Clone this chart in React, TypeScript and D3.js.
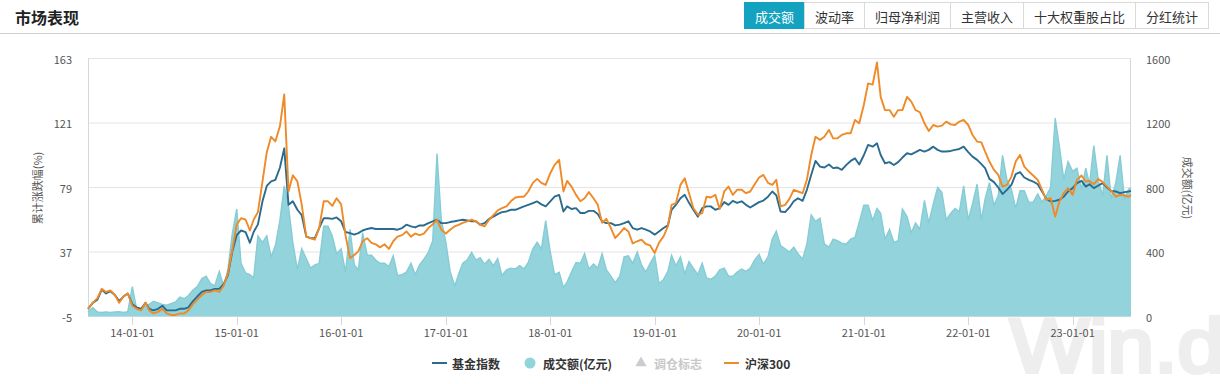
import React from 'react';
import * as d3 from 'd3';

// ---------- data ----------
const FIRST_DATE = '2013-07-30';
const GRID_FROM = '2013-08-16';
const GRID_TO = '2023-07-16';
const LAST_DATE = '2023-07-24';

// 基金指数 cumulative change (%)
const fundIndex = [
  0, 3.9, 6, 12.5, 10, 11.5, 9, 5, 8, 10,
  3, 1, 0, 4, 0, -1, 0, 2, -1, -1,
  -1, 0, 0, 1, 5, 8, 11, 12, 12, 13,
  13, 16, 22, 37, 48, 51, 50, 43, 50, 55,
  70, 80, 83, 84, 92, 104.5, 67.7, 70, 64.5, 61,
  47, 46, 46, 52.6, 59, 59, 58.6, 59.5, 57, 50,
  49.3, 48.3, 49.3, 51, 52, 52.6, 52, 52, 52, 52,
  52, 51.5, 52.6, 54.8, 53.7, 53, 54.3, 54.3, 55.8, 57,
  58, 55.8, 55.8, 56.5, 57, 57.6, 58, 57.6, 57, 57,
  54.8, 55.8, 58.6, 60, 61.7, 63, 63.4, 64.5, 64.5, 65.6,
  66.7, 67.7, 68.8, 69.9, 68, 66.7, 69.9, 73, 74.2, 63.4,
  66.7, 65, 65.6, 62.4, 62.4, 63.8, 63.8, 61.7, 57, 55.8,
  55.8, 54.3, 54.8, 55.8, 57, 52.6, 51.5, 52.6, 51.5, 50.4,
  48.3, 50.4, 52.6, 54.3, 64.5, 67.7, 72, 74.2, 69, 64.5,
  60, 65.6, 66.7, 66.7, 64.5, 65.6, 69.5, 67.7, 70.3, 69,
  70, 67.7, 66, 67.7, 69.5, 70.5, 73, 76.4, 74, 63.4,
  63, 66, 70, 72, 70.3, 77.5, 87.2, 96.3, 92.6, 92,
  94, 91.6, 92, 90.5, 93.7, 96.3, 98, 94, 100, 106.7,
  105.6, 107.8, 100.2, 94.8, 95.5, 93.7, 95.5, 98.5, 101.3, 100.6,
  102, 103.5, 102.4, 103.5, 105.6, 103.5, 102.4, 102.4, 102.8, 103.5,
  104.1, 105.6, 102, 99.1, 97, 94.2, 91.6, 84.6, 82.5, 79,
  74.7, 77.5, 80.7, 87.7, 89, 85.5, 84, 82.9, 81.1, 76.4,
  71.6, 69.9, 70.3, 71, 73, 76.4, 78.6, 81.8, 83.3, 79.6,
  81.1, 78.6, 80.3, 81.8, 79, 76.8, 76.4, 75.3, 76, 76.4,
  76.8,
];

// 沪深300 cumulative change (%)
const hs300 = [
  0, 4, 7, 13, 11, 12, 9, 4, 8, 10,
  2, 0, -1, 4, -1, -3, -2, 0, -3, -4,
  -4, -3, -3, -1, 3, 6, 9, 11, 11, 12,
  11, 15, 23, 38, 55, 59, 58, 51, 58, 63,
  83, 102, 112, 109, 119, 139.6, 76.4, 87, 83, 68,
  47, 46, 45, 52.6, 70, 70, 67, 72, 68, 48,
  33, 35, 37.4, 44, 46, 43, 42, 40, 42, 39,
  44, 47, 48, 50.4, 47, 49, 48, 49, 52.6, 55,
  58, 51.5, 49, 51.5, 53.7, 54.8, 56, 57, 58, 57,
  54.8, 53.7, 58, 61, 64, 65.6, 66.7, 70, 72.5, 73,
  73, 76.4, 82, 84.6, 82, 80.7, 88.3, 93.7, 97, 76.4,
  83.3, 79.6, 74.2, 70, 72, 76, 72, 67.7, 56, 58.6,
  52.6, 46, 49.3, 52.6, 50.4, 42.6, 44, 45, 42.2, 41.3,
  36.4, 43, 47.2, 53.7, 67.7, 68.8, 80.7, 85, 75.3, 65.6,
  61.2, 62.3, 73, 72.5, 74.2, 65, 76.4, 79.6, 74.2, 77.5,
  77.5, 75.3, 76.4, 81, 85.5, 87.2, 82, 80.7, 84, 66.7,
  67.7, 71.6, 77.5, 76.4, 75.3, 84, 100, 112, 110, 112,
  116.5, 111, 111, 113.2, 114.3, 114.3, 123, 120.8, 132.7, 146.8,
  146, 160.4, 138, 129.4, 129.4, 125, 129.4, 129.4, 138, 134.9,
  129.4, 128, 120.8, 115.8, 119.7, 118.6, 119.3, 121.9, 120.1, 119.7,
  121.9, 123, 119.7, 113.2, 108.9, 108.4, 102.4, 95.9, 90.5, 87.2,
  79.6, 80.7, 86.1, 95.9, 100.2, 92.6, 89.4, 86.8, 84, 77.5,
  71, 72, 60, 70, 75.3, 78.6, 74.2, 84, 86.8, 82.9,
  83.3, 81.1, 84.6, 82.5, 79.6, 76.8, 73, 74.2, 73.8, 73,
  74.2,
];

// 成交额 (亿元)
const turnover = [
  30, 55, 28, 25, 28, 25, 28, 30, 25, 30,
  185, 45, 50, 65, 75, 95, 85, 75, 70, 80,
  90, 120, 110, 130, 165, 185, 235, 250, 205, 190,
  280, 190, 290, 510, 667, 330, 270, 260, 240, 500,
  460, 500, 370, 440, 600, 810, 680, 460, 290, 420,
  360, 300, 320, 330, 560, 560, 500, 390, 420, 275,
  540, 320, 290, 520, 380, 380, 350, 330, 330, 310,
  377, 255, 260, 275, 330, 260, 320, 355, 400, 470,
  1010, 600, 460, 280, 190, 270, 330, 350, 398, 350,
  365, 325, 355, 315, 360, 255, 290, 300, 295, 315,
  295, 335, 420, 460, 420, 595, 400, 260, 275, 180,
  215, 275, 335, 330, 390, 295, 325, 300, 390, 290,
  250, 210, 250, 370, 377, 330, 400, 320, 275, 330,
  380, 205, 230, 280, 380, 315, 370, 265, 340, 300,
  260, 330, 240, 230, 250, 290, 300, 250, 250, 275,
  294, 280, 300, 350, 385, 325, 370, 480, 530, 440,
  420, 400, 430, 390, 355, 450, 630, 590, 610, 450,
  430, 480, 470, 455, 450, 480, 490, 585, 690, 690,
  595, 670, 640, 480, 540, 460, 470, 667, 620, 520,
  580, 540, 720, 580, 700, 800, 770, 600, 640, 670,
  650, 810, 600, 700, 820, 600, 730, 830, 690, 750,
  1000, 850, 790, 670, 780, 780, 709, 709, 760, 709,
  750, 800, 1230, 1050, 850, 960, 900, 920, 790, 920,
  820, 1060, 840, 750, 1000, 730, 830, 1000, 730, 790,
  800,
];

const leftTicks = [-5, 37, 79, 121, 163];
const rightTicks = [0, 400, 800, 1200, 1600];
const xTickYears = [2014, 2015, 2016, 2017, 2018, 2019, 2020, 2021, 2022, 2023];
const tabs = ['成交额', '波动率', '归母净利润', '主营收入', '十大权重股占比', '分红统计'];
const title = '市场表现';
const leftTitle = '累计涨跌幅(%)';
const rightTitle = '成交额(亿元)';
const legendLabels = ['基金指数', '成交额(亿元)', '调仓标志', '沪深300'];

// ---------- helpers ----------
const parse = d3.timeParse('%Y-%m-%d');
function buildDates(): Date[] {
  const from = parse(GRID_FROM)!;
  const to = parse(GRID_TO)!;
  const out: Date[] = [parse(FIRST_DATE)!];
  for (let y = 2013; y <= 2023; y++) {
    for (let m = 0; m < 12; m++) {
      for (const d of [1, 16]) {
        const dt = new Date(y, m, d);
        if (dt >= from && dt <= to) out.push(dt);
      }
    }
  }
  out.push(parse(LAST_DATE)!);
  return out;
}

const FONT = "'Noto Sans CJK SC', 'Noto Sans', sans-serif";
const BLUE = '#2a6b8f';
const ORANGE = '#ef8a27';
const TEAL = '#93d3dc';
const TEAL_LINE = '#86ccd6';

export default function App() {
  const W = 1220;
  const H = 384;
  const plot = { left: 88, right: 1131, top: 58.5, bottom: 316.5 };
  const dates = buildDates();

  const x = d3.scaleTime().domain([dates[0], dates[dates.length - 1]]).range([plot.left, plot.right]);
  const yL = d3.scaleLinear().domain([-5, 163]).range([plot.bottom, plot.top]);
  const yR = d3.scaleLinear().domain([0, 1600]).range([plot.bottom, plot.top]);

  const n = Math.min(dates.length, fundIndex.length, hs300.length, turnover.length);
  const idx = d3.range(n);

  const lineFund = d3.line<number>().x((i) => x(dates[i])).y((i) => yL(fundIndex[i]));
  const lineHs = d3.line<number>().x((i) => x(dates[i])).y((i) => yL(hs300[i]));
  const areaVol = d3.area<number>().x((i) => x(dates[i])).y0(yR(0)).y1((i) => yR(turnover[i]));
  const lineVol = d3.line<number>().x((i) => x(dates[i])).y((i) => yR(turnover[i]));

  const fmt = d3.timeFormat('%y-%m-%d');
  const xTicks = xTickYears.map((yr) => new Date(yr, 0, 1));

  // tabs layout
  const tabStart = 744;
  let cur = tabStart;
  const tabBoxes = tabs.map((t) => {
    const w = t.length * 13 + 21;
    const b = { t, x: cur, w };
    cur += w;
    return b;
  });

  const tri = d3.symbol().type(d3.symbolTriangle).size(55)();

  return (
    <div style={{ position: 'absolute', left: 0, top: 0, width: W, height: H, background: '#fff' }}>
      <svg width={W} height={H} style={{ display: 'block', fontFamily: FONT }}>
        <rect x={0} y={0} width={W} height={H} fill="#fff" />

        {/* watermark */}
        <text
          x={1010}
          y={372}
          fontSize={76}
          fontFamily="'Liberation Sans', Arial, sans-serif"
          fill="#eeeeee"
          stroke="#eeeeee"
          strokeWidth={4}
          textLength={214}
          lengthAdjust="spacingAndGlyphs"
        >
          Win.d
        </text>

        {/* header */}
        <text x={15} y={24} fontSize={16} fontWeight="bold" fill="#222">
          {title}
        </text>
        <line x1={0} x2={W} y1={33.5} y2={33.5} stroke="#d0d0d0" />
        {tabBoxes.map((b, i) => (
          <g key={b.t}>
            <rect
              x={b.x + 0.5}
              y={2.5}
              width={b.w}
              height={26}
              fill={i === 0 ? '#13a2bf' : '#fff'}
              stroke={i === 0 ? '#13a2bf' : '#d9d9d9'}
            />
            <text
              x={b.x + b.w / 2 + 0.5}
              y={16}
              textAnchor="middle"
              dominantBaseline="central"
              fontSize={13}
              fill={i === 0 ? '#fff' : '#333'}
            >
              {b.t}
            </text>
          </g>
        ))}

        {/* grid */}
        {leftTicks.map((t) => (
          <line key={t} x1={plot.left} x2={plot.right} y1={yL(t)} y2={yL(t)} stroke="#e4e4e4" />
        ))}
        <line x1={plot.left + 0.5} x2={plot.left + 0.5} y1={plot.top} y2={plot.bottom} stroke="#d3d9e1" />
        <line x1={plot.right - 0.5} x2={plot.right - 0.5} y1={plot.top} y2={plot.bottom} stroke="#d3d9e1" />

        {/* volume area */}
        <path d={areaVol(idx) || ''} fill={TEAL} />
        <path d={lineVol(idx) || ''} fill="none" stroke={TEAL_LINE} strokeWidth={1.4} />

        {/* lines */}
        <path d={lineFund(idx) || ''} fill="none" stroke={BLUE} strokeWidth={1.9} strokeLinejoin="round" />
        <path d={lineHs(idx) || ''} fill="none" stroke={ORANGE} strokeWidth={1.9} strokeLinejoin="round" />

        {/* left axis */}
        {leftTicks.map((t) => (
          <text key={t} x={72} y={yL(t)} textAnchor="end" dominantBaseline="central" fontSize={11} fill="#555">
            {t}
          </text>
        ))}
        <text
          transform={`translate(37,188) rotate(-90)`}
          textAnchor="middle"
          dominantBaseline="central"
          fontSize={11}
          fill="#555"
        >
          {leftTitle}
        </text>

        {/* right axis */}
        {rightTicks.map((t) => (
          <text key={t} x={1146} y={yR(t)} textAnchor="start" dominantBaseline="central" fontSize={11} fill="#555">
            {t}
          </text>
        ))}
        <text
          transform={`translate(1188,188) rotate(90)`}
          textAnchor="middle"
          dominantBaseline="central"
          fontSize={11}
          fill="#555"
        >
          {rightTitle}
        </text>

        {/* x axis */}
        {xTicks.map((d) => (
          <g key={d.getTime()}>
            <line x1={Math.round(x(d)) + 0.5} x2={Math.round(x(d)) + 0.5} y1={plot.bottom} y2={325} stroke="#d3d9e1" />
            <text x={x(d)} y={331.5} textAnchor="middle" dominantBaseline="central" fontSize={11} fill="#555">
              {fmt(d)}
            </text>
          </g>
        ))}

        {/* legend */}
        <g fontSize={12} fontWeight="bold">
          <line x1={432} x2={447} y1={363} y2={363} stroke={BLUE} strokeWidth={2} />
          <text x={452} y={363} dominantBaseline="central" fill="#333">{legendLabels[0]}</text>

          <circle cx={530} cy={363} r={5.5} fill={TEAL} />
          <text x={543} y={363} dominantBaseline="central" fill="#333">{legendLabels[1]}</text>

          <path d={tri || ''} transform="translate(641,363)" fill="#cccccc" />
          <text x={654} y={363} dominantBaseline="central" fill="#c8c8c8">{legendLabels[2]}</text>

          <line x1={724} x2={739} y1={363} y2={363} stroke={ORANGE} strokeWidth={2} />
          <text x={745} y={363} dominantBaseline="central" fill="#333">{legendLabels[3]}</text>
        </g>
      </svg>
    </div>
  );
}
